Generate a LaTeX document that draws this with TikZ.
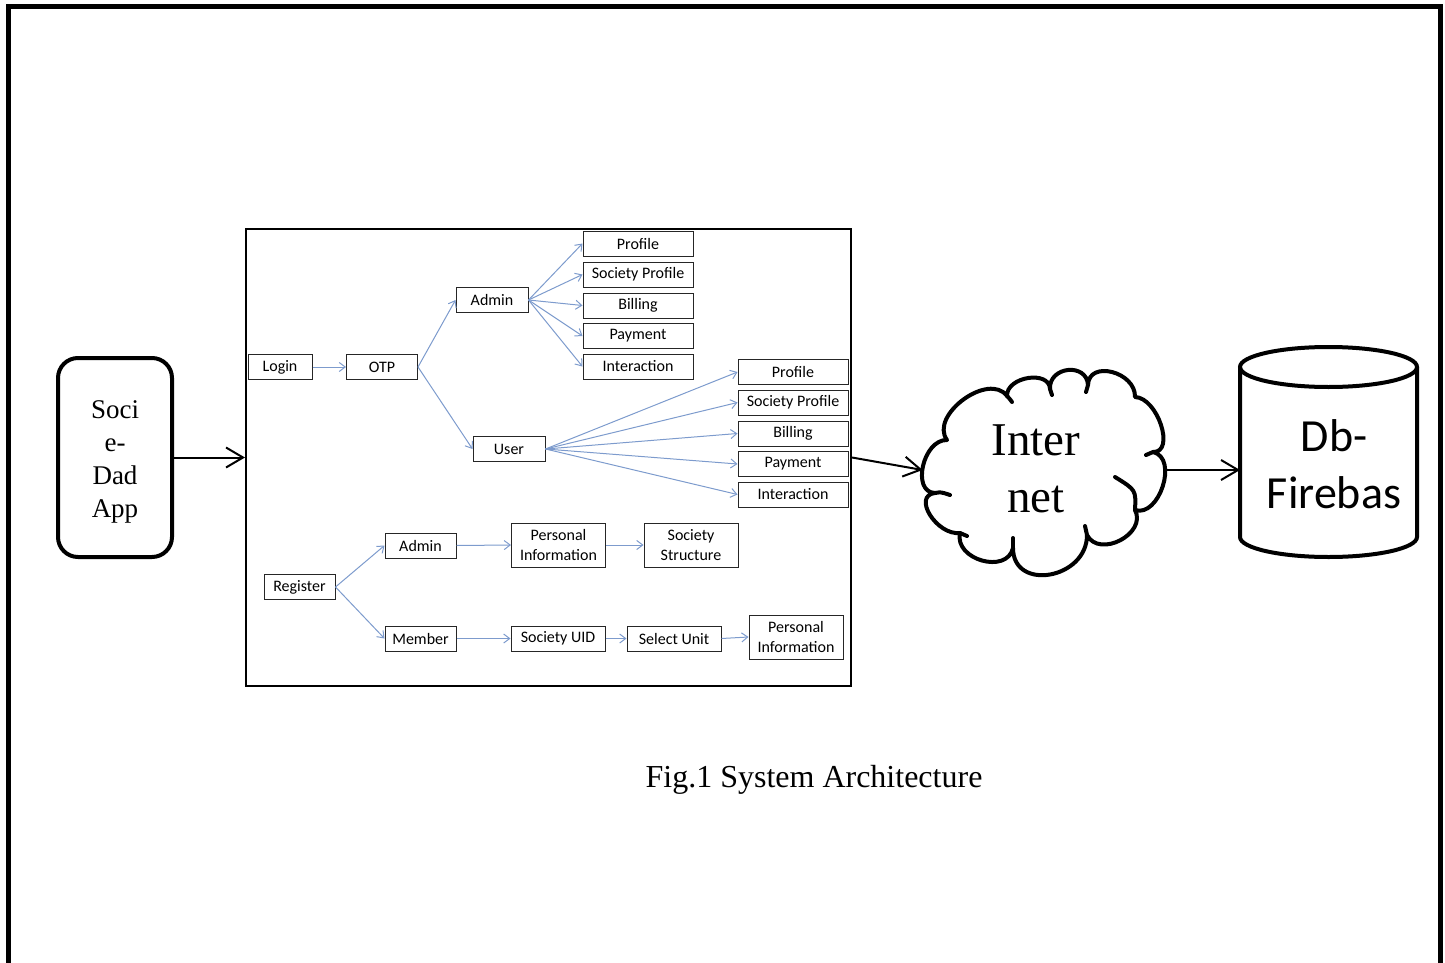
\documentclass[tikz,border=0pt]{standalone}
\usepackage{fontspec}
\setmainfont{Liberation Serif}
\newfontfamily\carlitofont{Carlito}
\usetikzlibrary{arrows.meta}
\definecolor{lblue}{RGB}{125,155,205}
\begin{document}
\begin{tikzpicture}[x=0.5pt,y=-0.5pt,
  box/.style={draw=black!85,line width=0.5pt,fill=white,inner sep=0pt,minimum height=12.5pt,
    font=\carlitofont\fontsize{8}{9.6}\selectfont,align=center},
  leaf/.style={box,minimum width=55pt},
  twol/.style={box,minimum width=47pt,minimum height=22pt},
  barrow/.style={draw=lblue,line width=0.5pt,-{Straight Barb[length=3pt,width=4.5pt]}},
  karrow/.style={draw=black,line width=1pt,-{Straight Barb[length=8.5pt,width=10pt,line width=1pt]}},
  thickline/.style={line width=2pt,line join=round,line cap=round}]
\useasboundingbox (0,0) rectangle (1445,963);
% outer frame
\draw[line width=2.5pt] (8.5,963) -- (8.5,6.5) -- (1440.5,6.5) -- (1440.5,963);
% app block
\node[draw,line width=2pt,rounded corners=10pt,minimum width=57pt,minimum height=99.5pt] (app) at (115,457.5) {};
\node[align=center,font=\fontsize{13.5}{16.5}\selectfont] (apptxt) at (115,461.5) {Soci\\e-\\Dad\\App};
% inner frame
\node[draw,line width=1pt,minimum width=302.5pt,minimum height=228.5pt,inner sep=0pt] (frame) at (548.5,457.5) {};
% cloud
\node[minimum width=122pt,minimum height=102.5pt,inner sep=0pt] (cloud) at (1045,470) {};
\draw[thickline]
  (935,493) .. controls (911,492.3) and (923,439.3) .. (947,440)
  .. controls (928.9,415.3) and (988.9,371.3) .. (1007,396)
  .. controls (1006.3,376.7) and (1049.3,369.7) .. (1050,389)
  .. controls (1048.7,366.3) and (1086.7,362.3) .. (1088,385)
  .. controls (1088.7,359.7) and (1135.7,371.7) .. (1135,397)
  .. controls (1157.7,397.7) and (1175.7,452.7) .. (1153,452)
  .. controls (1179,458) and (1159,518) .. (1135,510)
  .. controls (1147.3,533.7) and (1099.3,558.7) .. (1087,535)
  .. controls (1087,579) and (1013,592) .. (1013,548)
  .. controls (1007,574.7) and (954,559.7) .. (960,533)
  .. controls (936.7,535.7) and (911.7,495.7) .. (935,493);
% inner strokes of the cloud
\draw[thickline] (935,493) .. controls (941,492) .. (950,495);
\draw[thickline] (1007,396) .. controls (1009,398) .. (1012,402);
\draw[thickline] (1050,389) -- (1052,395);
\draw[thickline] (1088,385) -- (1086,392);
\draw[thickline] (1153,452) .. controls (1150,454) .. (1146,455);
\draw[thickline] (1135,510) .. controls (1136,490) .. (1115,477);
\draw[thickline] (1087,535) -- (1085,526);
\draw[thickline] (1013,548) -- (1013,538);
\draw[thickline] (960,533) -- (967,536);
\node[align=center,font=\fontsize{23.5}{28.5}\selectfont] (cloudtxt) at (1036,469) {Inter\\net};
% cylinder
\coordinate (cylTL) at (1240,367);
\coordinate (cylBL) at (1240,537);
\coordinate (cylTR) at (1417,367);
\draw[line width=2pt,fill=white] (cylTL) -- (cylBL) arc[start angle=180,end angle=360,x radius=44.25pt,y radius=10pt] -- (cylTR);
\draw[line width=2pt] (1328.5,367) ellipse[x radius=44.25pt,y radius=10pt];
\node[align=center,font=\carlitofont\fontsize{23}{28.5}\selectfont,inner sep=0pt] (db) at (1334,464) {Db-\\Firebas};
% black connectors
\draw[karrow] (app.east) -- (frame.west);
\draw[karrow] (frame.east) -- (cloud.west);
\draw[karrow] (cloud.east) -- (cylTL |- cloud.east);
% inner diagram: login part
\node[box,minimum width=32pt] (login) at (280,367) {Login};
\node[box,minimum width=35.5pt] (otp) at (382,367) {OTP};
\node[box,minimum width=36pt] (adm) at (492,300) {Admin};
\node[box,minimum width=36pt] (usr) at (509,449) {User};
\node[leaf] (a1) at (638,243.5) {Profile};
\node[leaf] (a2) at (638,274.5) {Society Profile};
\node[leaf] (a3) at (638,305.5) {Billing};
\node[leaf] (a4) at (638,336) {Payment};
\node[leaf] (a5) at (638,366.5) {Interaction};
\node[leaf] (u1) at (793,372) {Profile};
\node[leaf] (u2) at (793,402.5) {Society Profile};
\node[leaf] (u3) at (793,433.5) {Billing};
\node[leaf] (u4) at (793,464) {Payment};
\node[leaf] (u5) at (793,494.5) {Interaction};
\draw[barrow] (login.east) -- (otp.west);
\draw[barrow] (otp.east) -- (adm.west);
\draw[barrow] (otp.east) -- (usr.west);
\foreach \n in {a1,a2,a3,a4,a5} \draw[barrow] (adm.east) -- (\n.west);
\foreach \n in {u1,u2,u3,u4,u5} \draw[barrow] (usr.east) -- (\n.west);
% register part
\node[box,minimum width=35.5pt] (reg) at (299.5,587) {Register};
\node[box,minimum width=35.5pt] (radm) at (420.5,545.5) {Admin};
\node[box,minimum width=35.5pt] (mem) at (420.5,638.5) {Member};
\node[twol] (pi1) at (558.5,545) {Personal\\Information};
\node[twol] (ss) at (691,545) {Society\\Structure};
\node[box,minimum width=47pt] (suid) at (558,638.5) {Society UID};
\node[box,minimum width=47pt] (sel) at (674,638.5) {Select Unit};
\node[twol] (pi2) at (796,637) {Personal\\Information};
\draw[barrow] (reg.east) -- (radm.west);
\draw[barrow] (reg.east) -- (mem.west);
\draw[barrow] (radm.east) -- (pi1.west);
\draw[barrow] (pi1.east) -- (ss.west);
\draw[barrow] (mem.east) -- (suid.west);
\draw[barrow] (suid.east) -- (sel.west);
\draw[barrow] (sel.east) -- (pi2.west);
% caption
\node[font=\fontsize{16}{19}\selectfont] (cap) at (814,780) {Fig.1 System Architecture};
\end{tikzpicture}
\end{document}
